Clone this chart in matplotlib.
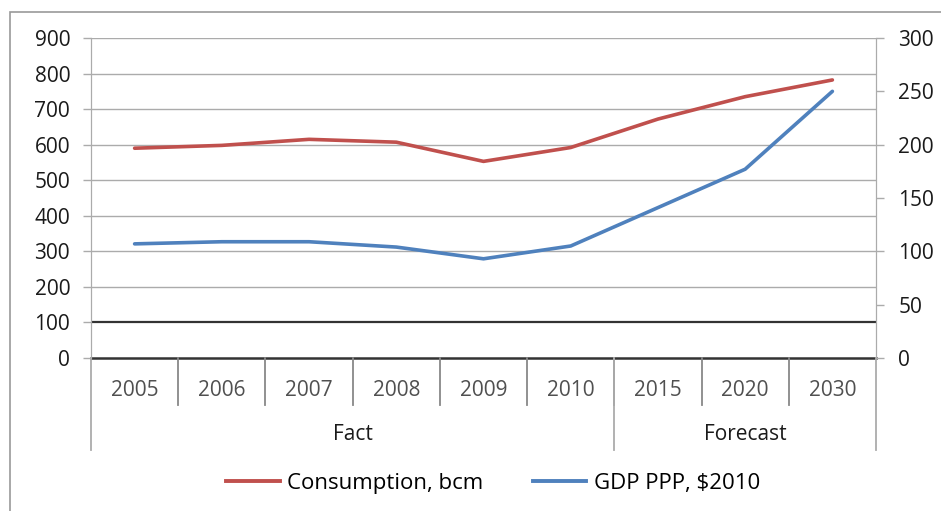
import matplotlib
matplotlib.use("Agg")
import matplotlib.pyplot as plt
from matplotlib.patches import Rectangle
from matplotlib.lines import Line2D

years = ["2005", "2006", "2007", "2008", "2009", "2010", "2015", "2020", "2030"]
groups = ["Fact", "Forecast"]
group_sizes = [6, 3]
consumption = [590, 598, 615, 607, 553, 592, 672, 735, 782]
gdp = [107, 109, 109, 104, 93, 105, 141, 177, 250]
left_ticks = [0, 100, 200, 300, 400, 500, 600, 700, 800, 900]
right_ticks = [0, 50, 100, 150, 200, 250, 300]

plt.rcParams['font.family'] = ['Open Sans', 'DejaVu Sans']
FS = 15

fig = plt.figure(figsize=(9.41, 5.11), dpi=100)
ax = fig.add_axes([91/941, 1-358/511, (876-91)/941, 320/511])
ax2 = ax.twinx()

xs = [i + 0.5 for i in range(len(years))]
red = "#C0504D"
blue = "#4F81BD"
grid_c = "#ababab"

ax.set_xlim(0, len(years))
ax.set_ylim(0, 900)
ax2.set_ylim(0, 300)
ax.set_yticks(left_ticks)
ax2.set_yticks(right_ticks)
ax.set_xticks([])

for v in left_ticks[2:]:
    ax.axhline(v, color=grid_c, lw=1.0, zorder=1)
ax.axhline(100, color="#333333", lw=1.6, zorder=2)
ax.axhline(0, color="#333333", lw=1.8, zorder=2, clip_on=False)

ax.plot(xs, consumption, color=red, lw=2.6, zorder=5, solid_capstyle='round')
ax2.plot(xs, gdp, color=blue, lw=2.6, zorder=5, solid_capstyle='round')

for a in (ax, ax2):
    a.spines['top'].set_visible(False)
    a.spines['bottom'].set_visible(False)
    a.spines['left'].set_color(grid_c)
    a.spines['right'].set_color(grid_c)
    a.tick_params(axis='y', colors=grid_c, length=6, width=1, labelsize=FS,
                  labelcolor="#1a1a1a", pad=9)
ax2.tick_params(axis='y', pad=10)

tr = ax.get_xaxis_transform()
# category separators
for i in range(1, len(years)):
    ax.plot([i, i], [0, -0.147], color="#888888", lw=1.3, transform=tr, clip_on=False)
bounds = [0]
for s in group_sizes:
    bounds.append(bounds[-1] + s)
for b in bounds:
    ax.plot([b, b], [0, -0.2875], color=grid_c, lw=1.3, transform=tr, clip_on=False)

for x, lab in zip(xs, years):
    ax.text(x, -0.1, lab, transform=tr, ha='center', va='center', fontsize=FS,
            color="#505050")
for k, g in enumerate(groups):
    cx = (bounds[k] + bounds[k + 1]) / 2
    ax.text(cx, -0.24, g, transform=tr, ha='center', va='center', fontsize=FS,
            color="#1a1a1a")

handles = [Line2D([], [], color=red, lw=2.8), Line2D([], [], color=blue, lw=2.8)]
fig.legend(handles, ["Consumption, bcm", "GDP PPP, $2010"], loc='center',
           bbox_to_anchor=(0.524, 1-483/511), ncol=2, frameon=False, fontsize=16,
           handlelength=2.4, columnspacing=2.2, handletextpad=0.35)

fig.patches.append(Rectangle((10/941, -0.01), 1.0, 1-12/511+0.01, transform=fig.transFigure,
                             fill=False, edgecolor="#999999", lw=1.2))

fig.savefig("out.png", dpi=100)
